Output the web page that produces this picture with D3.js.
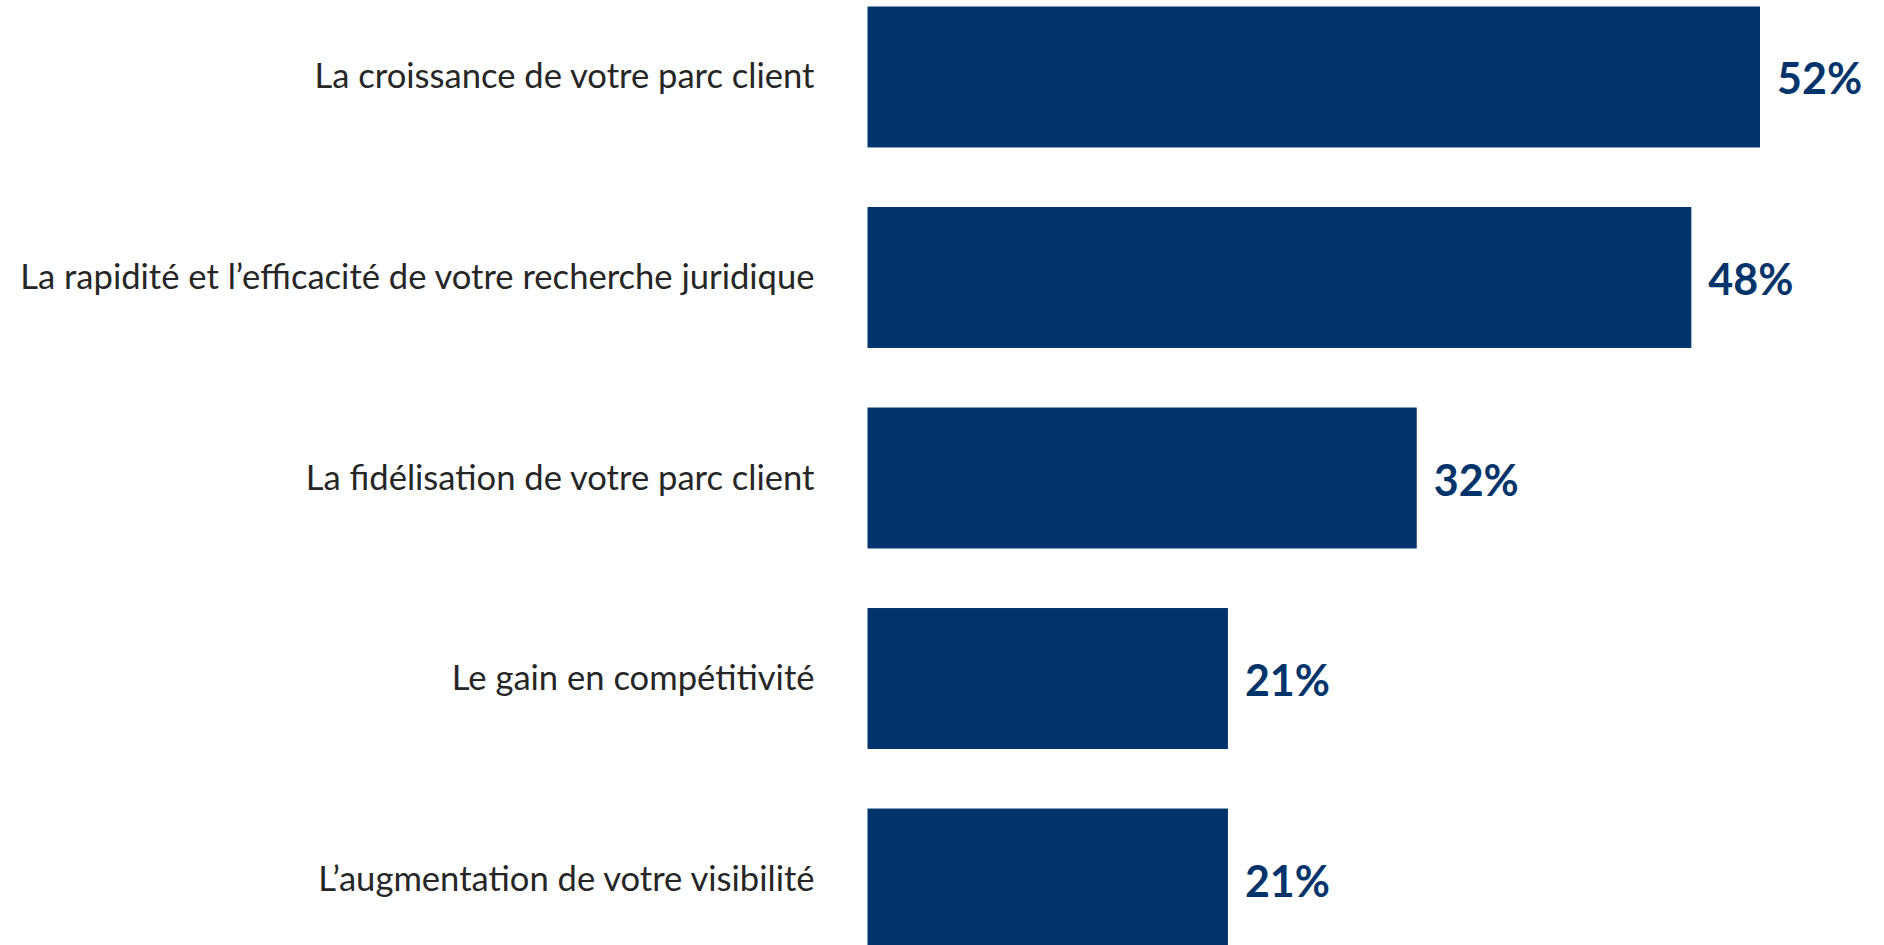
<!DOCTYPE html>
<html><head><meta charset="utf-8">
<script src="https://cdn.jsdelivr.net/npm/d3@7"></script>
<style>html,body{margin:0;padding:0;background:#fff;overflow:hidden}</style>
</head><body>
<svg id="chart" width="1884" height="945"></svg>
<script>
const categories = [
  "La croissance de votre parc client",
  "La rapidité et l’efficacité de votre recherche juridique",
  "La fidélisation de votre parc client",
  "Le gain en compétitivité",
  "L’augmentation de votre visibilité"
];
const values = [52, 48, 32, 21, 21];

const svg = d3.select("#chart");
const barColor = "#01346a";

const x = d3.scaleLinear().domain([0, 52]).range([867.5, 1760]);
const y = d3.scaleBand().domain(categories).range([6.5, 949.5]).paddingInner(0.297).paddingOuter(0);

svg.selectAll("rect.bar").data(categories).join("rect")
  .attr("class", "bar")
  .attr("x", x(0))
  .attr("y", d => y(d))
  .attr("width", (d, i) => x(values[i]) - x(0))
  .attr("height", y.bandwidth())
  .attr("fill", barColor);

svg.selectAll("text.val").data(categories).join("text")
  .attr("class", "val")
  .attr("x", (d, i) => x(values[i]) + 17)
  .attr("y", d => y(d) + y.bandwidth() / 2 + 1)
  .attr("dominant-baseline", "central")
  .attr("font-family", "Lato, 'Open Sans', sans-serif")
  .attr("font-weight", "bold")
  .attr("font-size", 43)
  .attr("fill", barColor)
  .text((d, i) => values[i] + "%");

svg.selectAll("text.cat").data(categories).join("text")
  .attr("class", "cat")
  .attr("x", 814.5)
  .attr("y", d => y(d) + y.bandwidth() / 2 - 2)
  .attr("text-anchor", "end")
  .attr("dominant-baseline", "central")
  .attr("font-family", "Lato, 'Open Sans', sans-serif")
  .attr("font-size", 34.6)
  .attr("fill", "#262626")
  .text(d => d);
</script>
</body></html>
